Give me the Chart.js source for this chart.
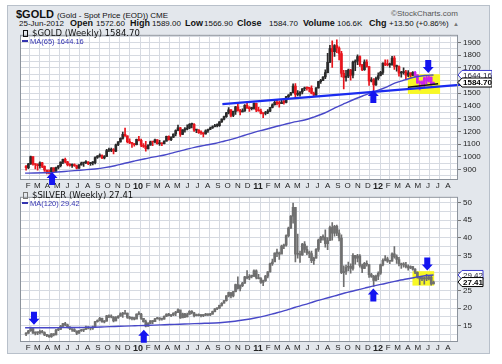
<!DOCTYPE html>
<html>
<head>
<meta charset="utf-8">
<title>$GOLD and $SILVER weekly</title>
<script src="https://cdn.jsdelivr.net/npm/chart.js@4.4.1/dist/chart.umd.min.js"></script>
<style>
  html, body { margin: 0; padding: 0; background: #fff; }
  body { position: relative; width: 502px; height: 364px; overflow: hidden; font-family: "Liberation Sans", Arial, sans-serif; color: #111; }
  #frame { position: absolute; left: 7px; top: 5px; width: 483px; height: 349px; box-sizing: border-box; background: #e3e7ec; border: 1px solid #b8c0ca; }
  .panel { position: absolute; left: 20px; width: 472px; height: 164px; }
  .line1 { position: absolute; left: 16px; top: 8px; line-height: 12px; white-space: nowrap; font-size: 11px; font-weight: bold; }
  .line1 small { font-size: 8px; font-weight: normal; }
  .line2 { position: absolute; left: 19px; top: 18px; line-height: 11px; white-space: nowrap; font-size: 8px; }
  .line2 span, .line2 b { display: inline-block; }
  .line2 b { font-size: 9px; }
  .credit { position: absolute; left: 391px; top: 9px; font-size: 8px; color: #555; white-space: nowrap; }
  .leg { position: absolute; left: 22px; line-height: 9px; white-space: nowrap; z-index: 2; }
  .leg1 { font-family: "DejaVu Sans", Verdana, sans-serif; font-size: 8.5px; color: #111; }
  .leg2 { font-size: 7.5px; color: #3434b0; }
  .ico { display: inline-block; width: 3px; height: 5px; border: 1px solid #111; margin: 0 4px 0 1px; vertical-align: -1px; }
  .dash { display: inline-block; width: 6px; height: 2px; background: #3434b0; margin-right: 2px; vertical-align: 2px; }
</style>
</head>
<body>
<div id="frame"></div>

<div class="line1">$GOLD <small>(Gold - Spot Price (EOD)) CME</small></div>
<div class="credit">&copy;StockCharts.com</div>
<div class="line2"><span style="width:51px">25-Jun-2012</span><b style="width:26px">Open</b><span style="width:34px">1572.60</span><b style="width:22px">High</b><span style="width:33px">1589.00</span><b style="width:19px">Low</b><span style="width:33px">1566.90</span><b style="width:32px">Close</b><span style="width:34px">1584.70</span><b style="width:34px">Volume</b><span style="width:32px">106.6K</span><b style="width:20px">Chg</b><span style="width:64px">+13.50 (+0.86%)</span><span style="font-size:6px;color:#777">&#9650;</span></div>

<div class="panel" style="top:28px"><canvas id="goldChart" width="472" height="164"></canvas></div>
<div class="panel" style="top:190px"><canvas id="silverChart" width="472" height="164"></canvas></div>

<div class="leg leg1" style="top:29px"><span class="ico"></span>$GOLD (Weekly) 1584.70</div>
<div class="leg leg2" style="top:37px"><span class="dash"></span>MA(65) 1644.16</div>
<div class="leg leg1" style="top:191px"><span class="ico" style="border-color:#777"></span>$SILVER (Weekly) 27.41</div>
<div class="leg leg2" style="top:199px"><span class="dash"></span>MA(120) 29.42</div>

<script>
// ---- calendar / axis labels ----
const monthLetters = ['J', 'F', 'M', 'A', 'M', 'J', 'J', 'A', 'S', 'O', 'N', 'D'];
const goldTicks = [900, 1000, 1100, 1200, 1300, 1400, 1500, 1600, 1700, 1800, 1900];
const silverTicks = [15, 20, 25, 30, 35, 40, 45, 50];

// ---- $GOLD weekly bars, week of 2-Feb-2009 .. week of 25-Jun-2012 ----
const goldFirstOpen = 928;
const goldClose = [
  // 2009
  914, 945, 1002, 942, 940, 930, 953, 925, 897, 883, 870, 913,
  885, 916, 930, 958, 980, 960, 938, 933, 940, 930, 912, 937, 952, 955,
  958, 947, 953, 955, 995, 1006, 1010, 991, 1003, 1050, 1051, 1056, 1045,
  1095, 1118, 1146, 1177, 1165, 1120, 1110, 1105,
  // 2010
  1096, 1137, 1130, 1091, 1083, 1064, 1092, 1119, 1117, 1133, 1103, 1107, 1103,
  1124, 1161, 1136, 1155, 1180, 1207, 1228, 1177, 1212, 1218, 1227, 1256, 1256,
  1210, 1210, 1190, 1188, 1181, 1204, 1215, 1227, 1237, 1246, 1246, 1275, 1297,
  1317, 1346, 1369, 1325, 1358, 1394, 1366, 1353, 1362, 1406, 1385, 1379, 1380, 1421,
  // 2011
  1369, 1361, 1342, 1341, 1349, 1360, 1388, 1410, 1429, 1421, 1419, 1430,
  1429, 1474, 1486, 1504, 1556, 1491, 1493, 1510, 1536, 1542, 1540, 1539, 1500,
  1486, 1542, 1592, 1601, 1628, 1663, 1744, 1852, 1828, 1876, 1856, 1813, 1657, 1624,
  1635, 1683, 1642, 1745, 1753, 1788, 1725, 1685, 1746, 1711, 1598, 1606, 1566,
  // 2012
  1617, 1640, 1665, 1738, 1725, 1724, 1724, 1776, 1711, 1711, 1659, 1662, 1669,
  1642, 1660, 1643, 1664, 1645, 1581, 1591, 1573, 1622, 1596, 1627, 1571, 1584.7
];
const goldHigh = [
  932, 950, 1006, 1000, 946, 945, 960, 957, 930, 897, 898, 915,
  913, 920, 932, 960, 983, 990, 965, 948, 945, 946, 935, 940, 958, 957,
  971, 962, 956, 962, 1000, 1010, 1024, 1015, 1010, 1060, 1070, 1070, 1066,
  1100, 1120, 1150, 1195, 1227, 1165, 1142, 1115,
  1105, 1140, 1162, 1140, 1105, 1122, 1095, 1125, 1120, 1140, 1135, 1130, 1110,
  1127, 1163, 1165, 1158, 1182, 1212, 1249, 1233, 1215, 1231, 1251, 1262, 1265,
  1262, 1215, 1215, 1205, 1190, 1212, 1218, 1235, 1245, 1255, 1259, 1278, 1300,
  1320, 1350, 1387, 1372, 1360, 1398, 1424, 1374, 1377, 1411, 1432, 1395, 1390, 1424,
  1423, 1389, 1375, 1345, 1359, 1372, 1390, 1417, 1440, 1445, 1438, 1446,
  1446, 1477, 1490, 1508, 1575, 1577, 1521, 1514, 1538, 1549, 1549, 1545, 1559,
  1510, 1545, 1595, 1610, 1632, 1684, 1814, 1877, 1912, 1883, 1921, 1866, 1830, 1680,
  1680, 1690, 1688, 1753, 1764, 1802, 1795, 1725, 1764, 1763, 1710, 1623, 1615,
  1627, 1660, 1672, 1740, 1764, 1763, 1737, 1790, 1792, 1722, 1716, 1672, 1700,
  1680, 1678, 1660, 1671, 1672, 1645, 1597, 1598, 1628, 1641, 1636, 1628, 1589
];
const goldLow = [
  895, 908, 940, 935, 905, 895, 912, 915, 885, 865, 865, 865,
  880, 881, 906, 920, 946, 953, 929, 927, 917, 924, 905, 910, 935, 925,
  947, 939, 933, 936, 945, 988, 997, 986, 984, 1003, 1040, 1040, 1024,
  1040, 1088, 1115, 1140, 1160, 1110, 1103, 1075,
  1085, 1093, 1125, 1081, 1075, 1045, 1060, 1092, 1088, 1110, 1100, 1090, 1088,
  1101, 1123, 1132, 1128, 1150, 1165, 1205, 1160, 1175, 1195, 1212, 1222, 1227,
  1200, 1190, 1185, 1177, 1157, 1178, 1193, 1213, 1224, 1236, 1236, 1240, 1270,
  1290, 1310, 1338, 1315, 1317, 1334, 1360, 1330, 1354, 1358, 1380, 1357, 1370, 1375,
  1355, 1360, 1337, 1309, 1330, 1340, 1356, 1385, 1407, 1408, 1390, 1419,
  1415, 1424, 1455, 1485, 1503, 1462, 1480, 1477, 1495, 1521, 1525, 1510, 1495,
  1478, 1483, 1540, 1578, 1600, 1615, 1660, 1740, 1704, 1790, 1820, 1763, 1628, 1535,
  1595, 1622, 1604, 1620, 1677, 1725, 1711, 1677, 1680, 1705, 1562, 1590, 1523,
  1562, 1605, 1636, 1649, 1717, 1716, 1704, 1722, 1688, 1673, 1635, 1627, 1651,
  1613, 1631, 1627, 1638, 1628, 1578, 1527, 1555, 1550, 1576, 1587, 1564, 1566.9
];
// MA(65) read at each month start Feb-2009 .. Jun-2012, then the last bar
const goldMA = [
  872, 873, 875, 878, 885, 892, 898, 905, 915, 930, 950,
  968, 985, 1000, 1015, 1035, 1055, 1075, 1090, 1105, 1125, 1145, 1170,
  1195, 1215, 1235, 1255, 1275, 1290, 1315, 1345, 1385, 1420, 1455, 1485,
  1515, 1545, 1580, 1605, 1628, 1640, 1644.16
];

// ---- $SILVER weekly bars ----
const silverFirstOpen = 12.6;
const silverClose = [
  12.9, 13.6, 14.2, 12.9, 13.0, 13.0, 13.4, 13.1, 12.4, 12.3, 11.9, 12.7,
  12.4, 13.8, 14.0, 14.9, 15.6, 15.3, 14.6, 14.2, 13.9, 13.5, 12.9, 13.6, 13.8, 14.0,
  14.6, 14.3, 14.3, 14.7, 16.2, 16.5, 17.1, 16.1, 16.3, 17.8, 17.5, 17.5, 16.4,
  17.3, 17.7, 18.4, 18.3, 18.6, 17.4, 17.1, 17.3,
  16.9, 18.3, 18.3, 17.1, 16.2, 14.9, 15.7, 16.4, 16.2, 17.0, 17.1, 16.9, 16.9,
  17.7, 18.3, 17.9, 18.1, 18.6, 18.8, 19.5, 17.2, 18.4, 17.5, 18.2, 19.1, 18.7,
  17.9, 18.1, 17.9, 17.9, 18.0, 18.3, 18.1, 18.3, 19.0, 19.8, 20.0, 20.8, 21.4,
  22.1, 23.5, 24.4, 23.5, 24.7, 26.7, 25.6, 26.4, 27.1, 28.9, 28.6, 29.0, 29.0, 30.6,
  28.7, 28.4, 27.3, 27.8, 29.1, 30.3, 32.6, 33.1, 35.6, 35.6, 35.3, 37.6,
  37.9, 40.6, 42.7, 46.1, 48.6, 35.3, 35.3, 35.1, 38.2, 36.7, 35.7, 35.5, 33.5,
  34.2, 36.7, 39.3, 40.1, 40.1, 38.3, 39.2, 42.9, 41.3, 43.2, 41.3, 39.9, 30.1, 30.4,
  31.6, 31.9, 31.3, 35.0, 34.2, 34.8, 32.1, 31.3, 32.7, 32.4, 29.5, 29.0, 27.9,
  29.1, 29.9, 32.3, 33.6, 34.0, 33.3, 33.3, 35.4, 34.6, 33.8, 32.6, 32.3, 32.3,
  31.8, 31.4, 31.8, 31.1, 30.2, 28.8, 28.3, 28.3, 28.6, 28.3, 28.8, 26.9, 27.41
];
const silverHigh = [
  13.1, 13.7, 14.6, 14.4, 13.3, 13.3, 13.8, 13.7, 13.3, 12.6, 12.4, 12.8,
  12.8, 14.0, 14.3, 15.1, 15.7, 16.0, 15.5, 14.8, 14.1, 14.2, 13.6, 13.7, 14.0, 14.1,
  14.9, 14.8, 14.4, 14.9, 16.3, 16.7, 17.4, 17.2, 16.5, 18.0, 18.1, 18.1, 17.6,
  17.6, 17.9, 18.7, 18.8, 19.4, 18.6, 17.7, 17.5,
  17.3, 18.4, 19.0, 18.5, 17.1, 16.6, 15.9, 16.5, 16.5, 17.1, 17.4, 17.3, 17.1,
  17.8, 18.4, 18.5, 18.2, 18.7, 19.1, 19.8, 19.3, 18.6, 18.5, 18.6, 19.3, 19.3,
  18.8, 18.3, 18.4, 18.2, 18.2, 18.5, 18.4, 18.5, 19.2, 19.9, 20.1, 20.9, 21.6,
  22.2, 23.6, 24.6, 24.4, 24.8, 26.8, 28.9, 26.6, 27.3, 29.0, 30.7, 29.5, 29.4, 30.9,
  30.9, 29.6, 28.7, 28.0, 29.3, 30.4, 32.8, 33.9, 35.7, 36.8, 35.9, 37.9,
  38.2, 40.8, 43.0, 46.3, 49.8, 48.2, 41.0, 36.2, 38.4, 38.9, 37.6, 36.2, 36.2,
  34.5, 36.9, 39.6, 40.4, 40.8, 42.2, 40.0, 43.3, 44.3, 43.5, 43.6, 42.2, 40.8, 32.0,
  32.2, 33.1, 32.6, 35.5, 35.0, 35.3, 35.2, 32.5, 33.0, 33.4, 32.4, 29.9, 29.3,
  29.4, 30.3, 32.5, 34.0, 34.9, 34.5, 33.6, 35.7, 37.5, 35.1, 34.4, 32.8, 32.9,
  33.0, 32.3, 32.0, 31.9, 31.2, 30.3, 28.9, 28.9, 28.8, 29.6, 29.0, 29.0, 27.7
];
const silverLow = [
  12.2, 12.8, 13.4, 12.8, 12.4, 12.5, 12.7, 12.9, 12.2, 11.9, 11.7, 11.7,
  12.1, 12.4, 13.6, 13.9, 14.7, 15.0, 14.4, 13.9, 13.4, 13.3, 12.5, 12.8, 13.4, 13.3,
  14.0, 14.1, 13.8, 14.0, 14.6, 16.0, 16.4, 16.0, 15.8, 16.3, 17.3, 17.2, 16.1,
  16.4, 17.1, 17.7, 17.4, 18.4, 17.1, 16.9, 16.7,
  16.7, 17.0, 18.1, 16.8, 16.0, 14.7, 14.8, 15.6, 15.6, 16.2, 16.9, 16.5, 16.6,
  16.9, 17.6, 17.8, 17.6, 17.9, 17.9, 18.7, 17.1, 17.5, 17.3, 17.5, 18.3, 18.4,
  17.5, 17.8, 17.8, 17.5, 17.6, 17.9, 17.9, 17.9, 18.3, 18.9, 19.6, 19.9, 20.6,
  21.4, 22.0, 23.2, 22.9, 23.2, 24.6, 25.4, 24.9, 26.1, 27.0, 28.3, 28.1, 28.6, 29.0,
  28.3, 28.3, 27.0, 26.4, 27.6, 28.6, 30.2, 32.1, 33.4, 34.6, 33.8, 35.6,
  36.9, 37.6, 40.2, 42.6, 44.1, 33.1, 34.2, 33.0, 35.0, 35.8, 35.2, 34.3, 32.9,
  32.4, 34.2, 36.1, 38.6, 39.3, 37.3, 36.6, 39.2, 39.3, 40.4, 40.6, 39.1, 29.8, 26.1,
  29.6, 30.6, 29.9, 30.8, 32.5, 33.1, 31.6, 30.1, 31.2, 31.9, 28.7, 28.7, 26.2,
  27.7, 28.1, 29.6, 32.0, 33.4, 33.0, 32.6, 33.3, 34.2, 32.7, 32.0, 31.3, 31.6,
  31.4, 30.8, 31.2, 30.8, 29.8, 28.5, 26.7, 27.8, 26.8, 27.8, 28.0, 26.5, 26.9
];
// MA(120) read at each month start Feb-2009 .. Jun-2012, then the last bar
const silverMA = [
  14.45, 14.45, 14.45, 14.45, 14.5, 14.5, 14.55, 14.6, 14.7, 14.8, 14.9,
  15.0, 15.1, 15.2, 15.3, 15.4, 15.5, 15.6, 15.7, 15.8, 16.0, 16.3, 16.7,
  17.2, 17.8, 18.5, 19.3, 20.2, 21.0, 21.9, 22.7, 23.5, 24.3, 25.0, 25.7,
  26.4, 27.0, 27.6, 28.2, 28.7, 29.2, 29.42
];

// ---- hand-drawn annotations (date, price) ----
const goldTrendDates = [[2010, 9, 24], [2012, 11, 28]];
const goldTrendPrices = [1415, 1582];
const goldSupportDates = [[2012, 4, 10], [2012, 7, 11]];
const goldSupportPrices = [1547, 1575];
const goldBox = { from: [2012, 4, 10], to: [2012, 7, 17], lo: 1495, hi: 1650 };
const silverBox = { from: [2012, 4, 24], to: [2012, 6, 29], lo: 26.4, hi: 30.5 };
const goldArrows = [
  { date: [2009, 4, 24], price: 880, dir: 'up' },
  { date: [2011, 12, 27], price: 1525, dir: 'up' },
  { date: [2012, 6, 11], price: 1660, dir: 'down' }
];
const silverArrows = [
  { date: [2009, 2, 28], price: 15.3, dir: 'down' },
  { date: [2010, 1, 28], price: 13.9, dir: 'up' },
  { date: [2011, 12, 27], price: 25.6, dir: 'up' },
  { date: [2012, 6, 8], price: 30.7, dir: 'down' }
];
const goldHighlightWeeks = 9;

// ---- helpers ----
const day = (y, m, d) => Math.round((Date.UTC(y, m - 1, d) - Date.UTC(2009, 1, 1)) / 864e5);
const dayOf = a => day(a[0], a[1], a[2]);

[goldHigh, goldLow, silverClose, silverHigh, silverLow].forEach((a, i) => {
  if (a.length !== goldClose.length) throw new Error('length mismatch ' + i + ': ' + a.length + ' vs ' + goldClose.length);
});

// bars are plotted mid-week
const weekDays = goldClose.map((_, i) => day(2009, 2, 4) + 7 * i);

const months = [];
for (let y = 2009, m = 2; y * 12 + m <= 2012 * 12 + 8; m === 12 ? (y++, m = 1) : m++) {
  months.push({ value: day(y, m, 1), label: m === 1 ? String(y).slice(2) : monthLetters[m - 1], year: m === 1 });
}
const monthLabel = new Map(months.map(t => [t.value, t]));
const maDays = months.filter(t => t.value <= day(2012, 6, 1)).map(t => t.value).concat(day(2012, 6, 27));

Chart.defaults.font.family = '"Liberation Sans", Arial, sans-serif';
Chart.defaults.font.size = 8;
Chart.defaults.color = '#222';

function drawArrow(ctx, x, tip, dir) {
  const s = dir === 'up' ? 1 : -1;
  ctx.beginPath();
  ctx.moveTo(x, tip);
  ctx.lineTo(x + 5.5, tip + s * 6);
  ctx.lineTo(x + 3, tip + s * 6);
  ctx.lineTo(x + 3, tip + s * 13);
  ctx.lineTo(x - 3, tip + s * 13);
  ctx.lineTo(x - 3, tip + s * 6);
  ctx.lineTo(x - 5.5, tip + s * 6);
  ctx.closePath();
  ctx.fill();
}

function drawTag(ctx, left, mid, w, t) {
  const h = 9;
  ctx.beginPath();
  ctx.moveTo(left, mid);
  ctx.lineTo(left + 4, mid - h / 2);
  ctx.lineTo(left + w, mid - h / 2);
  ctx.lineTo(left + w, mid + h / 2);
  ctx.lineTo(left + 4, mid + h / 2);
  ctx.closePath();
  ctx.fillStyle = '#fff';
  ctx.fill();
  ctx.strokeStyle = t.color;
  ctx.lineWidth = 1;
  ctx.stroke();
  ctx.fillStyle = t.bold ? '#000' : '#223';
  ctx.font = (t.bold ? 'bold ' : '') + '8px "Liberation Sans", Arial, sans-serif';
  ctx.textBaseline = 'middle';
  ctx.textAlign = 'left';
  ctx.fillText(t.text, left + 5, mid + 0.5);
}

function marksPlugin(p) {
  return {
    id: 'marks',
    beforeDraw(chart) {
      const { ctx, chartArea: a } = chart;
      ctx.save();
      ctx.fillStyle = '#fff';
      ctx.fillRect(a.left, a.top, a.right - a.left, a.bottom - a.top);
      ctx.restore();
    },
    beforeDatasetsDraw(chart) {
      const { ctx, scales: { x, y } } = chart;
      const b = p.box;
      const x0 = x.getPixelForValue(dayOf(b.from)), x1 = x.getPixelForValue(dayOf(b.to));
      const y0 = y.getPixelForValue(b.hi), y1 = y.getPixelForValue(b.lo);
      ctx.save();
      ctx.fillStyle = '#f8f825';
      ctx.fillRect(x0, y0, x1 - x0, y1 - y0);
      ctx.restore();
    },
    afterDraw(chart) {
      const { ctx, chartArea: a, scales: { x, y } } = chart;
      ctx.save();
      ctx.strokeStyle = '#8c939c';
      ctx.lineWidth = 1;
      ctx.strokeRect(a.left + 0.5, a.top + 0.5, a.right - a.left - 1, a.bottom - a.top - 1);
      ctx.fillStyle = '#1414f0';
      p.arrows.forEach(ar => drawArrow(ctx, x.getPixelForValue(dayOf(ar.date)), y.getPixelForValue(ar.price), ar.dir));
      p.tags.forEach(t => drawTag(ctx, a.right, y.getPixelForValue(t.value), p.tagWidth, t));
      ctx.restore();
    }
  };
}

function buildPanel(id, p) {
  const opens = p.close.map((c, i) => i ? p.close[i - 1] : p.firstOpen);
  const n = p.close.length;
  const colors = p.close.map((c, i) => i >= n - p.highlight ? '#cc22ee' : (c >= opens[i] ? p.up : p.down));
  const gridValues = [];
  for (let v = Math.ceil(p.min / p.gridStep) * p.gridStep; v <= p.max; v += p.gridStep) gridValues.push(+v.toFixed(2));

  const datasets = [
    {
      type: 'bar', order: 5, grouped: false, barThickness: 1,
      data: p.close.map((c, i) => ({ x: weekDays[i], y: [p.low[i], p.high[i]] })),
      backgroundColor: colors
    },
    {
      type: 'bar', order: 4, grouped: false, barThickness: 2, minBarLength: 1,
      data: p.close.map((c, i) => ({ x: weekDays[i], y: [opens[i], c] })),
      backgroundColor: colors
    },
    {
      type: 'line', order: 3, data: maDays.map((d, i) => ({ x: d, y: p.ma[i] })),
      borderColor: '#4848c8', borderWidth: 1.4, pointRadius: 0, fill: false, cubicInterpolationMode: 'monotone'
    }
  ];
  p.lines.forEach(l => datasets.push({
    type: 'line', order: 1, clip: false,
    data: l.dates.map((d, i) => ({ x: dayOf(d), y: l.prices[i] })),
    borderColor: l.color, borderWidth: l.width, pointRadius: 0, fill: false
  }));

  new Chart(document.getElementById(id), {
    type: 'bar',
    data: { datasets },
    options: {
      responsive: false,
      animation: false,
      events: [],
      layout: { padding: 0, autoPadding: false },
      plugins: { legend: { display: false }, tooltip: { enabled: false } },
      scales: {
        x: {
          type: 'linear',
          min: 0,
          max: day(2012, 8, 25),
          afterBuildTicks: s => { s.ticks = months.map(t => ({ value: t.value })); },
          afterFit: s => { s.height = 12; },
          ticks: {
            autoSkip: false, maxRotation: 0, labelOffset: 3, padding: 1, color: '#222',
            font: c => (c.tick && monthLabel.get(c.tick.value) && monthLabel.get(c.tick.value).year)
              ? { size: 9, weight: 'bold' } : { size: 8 },
            callback: v => (monthLabel.get(v) || {}).label || ''
          },
          grid: { color: '#d6dae1', drawTicks: false },
          border: { display: false }
        },
        y: {
          position: 'right',
          min: p.min,
          max: p.max,
          afterBuildTicks: s => { s.ticks = gridValues.map(v => ({ value: v })); },
          afterFit: s => { s.width = 34; },
          ticks: {
            autoSkip: false, padding: 2, color: '#222', font: { size: 8 },
            callback: v => p.ticks.includes(v) ? String(v) : ''
          },
          grid: {
            color: '#d6dae1', tickLength: 3,
            tickColor: c => (c.tick && p.ticks.includes(c.tick.value)) ? '#777' : 'rgba(0,0,0,0)'
          },
          border: { display: false }
        }
      }
    },
    plugins: [marksPlugin(p)]
  });
}

buildPanel('goldChart', {
  close: goldClose, high: goldHigh, low: goldLow, firstOpen: goldFirstOpen, ma: goldMA,
  up: '#2a2a2a', down: '#e8141c', highlight: goldHighlightWeeks,
  min: 818, max: 1960, gridStep: 50, ticks: goldTicks,
  lines: [
    { dates: goldTrendDates, prices: goldTrendPrices, color: '#1b2cf0', width: 2.2 },
    { dates: goldSupportDates, prices: goldSupportPrices, color: '#111', width: 1.6 }
  ],
  box: goldBox, arrows: goldArrows, tagWidth: 34,
  tags: [
    { value: goldMA[goldMA.length - 1], text: '1644.16', color: '#3a3ad0', bold: false },
    { value: goldClose[goldClose.length - 1], text: '1584.70', color: '#000', bold: true }
  ]
});

buildPanel('silverChart', {
  close: silverClose, high: silverHigh, low: silverLow, firstOpen: silverFirstOpen, ma: silverMA,
  up: '#6f6f6f', down: '#6f6f6f', highlight: 0,
  min: 10.4, max: 51.6, gridStep: 2.5, ticks: silverTicks,
  lines: [],
  box: silverBox, arrows: silverArrows, tagWidth: 25,
  tags: [
    { value: silverMA[silverMA.length - 1], text: '29.42', color: '#3a3ad0', bold: false },
    { value: silverClose[silverClose.length - 1], text: '27.41', color: '#000', bold: true }
  ]
});
</script>
</body>
</html>
